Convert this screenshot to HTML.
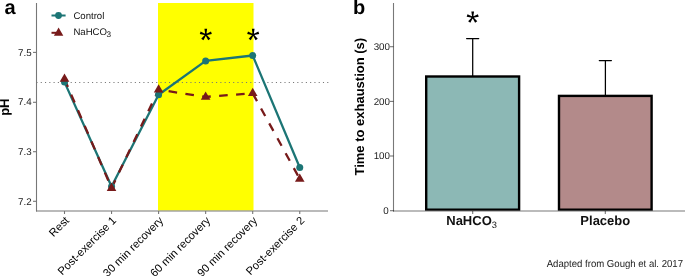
<!DOCTYPE html>
<html><head><meta charset="utf-8"><style>
html,body{margin:0;padding:0;background:#fff;}
body{width:685px;height:276px;overflow:hidden;}
svg{display:block;will-change:transform;}
text{font-family:"Liberation Sans",sans-serif;text-rendering:geometricPrecision;}
</style></head><body>
<svg width="685" height="276" viewBox="0 0 685 276">
<!-- ===== Panel a ===== -->
<rect x="158" y="3" width="95.5" height="207.5" fill="#ffff00"/>
<line x1="36.45" y1="82.5" x2="328.5" y2="82.5" stroke="#777" stroke-width="1.1" stroke-dasharray="1.1 3.176"/>
<!-- axes -->
<line x1="36.5" y1="3" x2="36.5" y2="211.5" stroke="#777" stroke-width="1.1"/>
<line x1="36" y1="211" x2="328" y2="211" stroke="#777" stroke-width="1.1"/>
<g stroke="#777" stroke-width="1.1">
<line x1="33" y1="52.4" x2="36.5" y2="52.4"/>
<line x1="33" y1="102.3" x2="36.5" y2="102.3"/>
<line x1="33" y1="151.7" x2="36.5" y2="151.7"/>
<line x1="33" y1="201.3" x2="36.5" y2="201.3"/>
<line x1="64.5" y1="211" x2="64.5" y2="214"/>
<line x1="111.55" y1="211" x2="111.55" y2="214"/>
<line x1="158.6" y1="211" x2="158.6" y2="214"/>
<line x1="205.65" y1="211" x2="205.65" y2="214"/>
<line x1="252.7" y1="211" x2="252.7" y2="214"/>
<line x1="299.75" y1="211" x2="299.75" y2="214"/>
</g>
<g font-size="9.8" fill="#1a1a1a" text-anchor="end">
<text x="31.6" y="55.6">7.5</text>
<text x="31.6" y="105.1">7.4</text>
<text x="31.6" y="154.9">7.3</text>
<text x="31.6" y="204.5">7.2</text>
</g>
<g font-size="11.2" fill="#000" text-anchor="end">
<text transform="translate(69.80,221.2) rotate(-45)">Rest</text>
<text transform="translate(116.85,221.2) rotate(-45)">Post-exercise 1</text>
<text transform="translate(163.90,221.2) rotate(-45)">30 min recovery</text>
<text transform="translate(210.95,221.2) rotate(-45)">60 min recovery</text>
<text transform="translate(258.00,221.2) rotate(-45)">90 min recovery</text>
<text transform="translate(305.05,221.2) rotate(-45)">Post-exercise 2</text>
</g>
<text transform="translate(9.3,107.2) rotate(-90)" font-size="13" font-weight="bold" fill="#000" text-anchor="middle">pH</text>
<text x="4.5" y="14.4" font-size="20" font-weight="bold" fill="#000">a</text>
<!-- lines then points -->
<polyline points="64.5,82.1 111.55,186.5 158.6,94.8 205.65,60.9 252.7,55.5 299.75,167.5" fill="none" stroke="#1c7575" stroke-width="2.3" stroke-linejoin="round"/>
<polyline points="64.5,79 111.55,188.1 158.6,89.7 205.65,96.9 252.7,93.3 299.75,178.9" fill="none" stroke="#771a1a" stroke-width="2.3" stroke-dasharray="8.6 8.4"/>
<g fill="#1c7575">
<circle cx="64.5" cy="82.1" r="3.5"/>
<circle cx="111.55" cy="186.5" r="3.5"/>
<circle cx="158.6" cy="94.8" r="3.5"/>
<circle cx="205.65" cy="60.9" r="3.5"/>
<circle cx="252.7" cy="55.5" r="3.5"/>
<circle cx="299.75" cy="167.5" r="3.5"/>
</g>
<g fill="#771a1a">
<path d="M64.5,73.5 L69.3,81.8 L59.7,81.8Z"/>
<path d="M111.55,182.6 L116.35,190.9 L106.75,190.9Z"/>
<path d="M158.6,84.2 L163.4,92.5 L153.8,92.5Z"/>
<path d="M205.65,91.4 L210.45,99.7 L200.85,99.7Z"/>
<path d="M252.7,87.8 L257.5,96.1 L247.9,96.1Z"/>
<path d="M299.75,173.4 L304.55,181.7 L294.95,181.7Z"/>
</g>
<!-- asterisks -->
<defs><g id="ast" fill="#000"><path d="M0.50,0.00 L1.35,-5.90 L-1.35,-5.90 L-0.50,-0.00ZM0.15,0.48 L6.03,-0.54 L5.19,-3.11 L-0.15,-0.48ZM0.15,-0.48 L-5.19,-3.11 L-6.03,-0.54 L-0.15,0.48ZM-0.40,0.29 L2.38,5.57 L4.56,3.98 L0.40,-0.29ZM-0.40,-0.29 L-4.56,3.98 L-2.38,5.57 L0.40,0.29Z"/><circle r="1.3"/></g></defs>
<use href="#ast" x="205.8" y="34.65"/>
<use href="#ast" x="253.2" y="34.65"/>
<!-- legend -->
<line x1="51.5" y1="15.5" x2="65.6" y2="15.5" stroke="#1c7575" stroke-width="2"/>
<circle cx="58.5" cy="15.5" r="3.4" fill="#1c7575"/>
<line x1="51.5" y1="32.8" x2="65.6" y2="32.8" stroke="#771a1a" stroke-width="2" stroke-dasharray="8 8"/>
<path d="M58.6,27.6 L63.3,35.8 L53.9,35.8Z" fill="#771a1a"/>
<g font-size="9.6" fill="#111">
<text x="73.4" y="18.7">Control</text>
<text x="73.4" y="34.8">NaHCO<tspan font-size="8.2" dx="-0.4" dy="2.5">3</tspan></text>
</g>

<!-- ===== Panel b ===== -->
<text x="353.1" y="13.8" font-size="20" font-weight="bold" fill="#000">b</text>
<text transform="translate(364,106.7) rotate(-90)" font-size="13" font-weight="bold" fill="#000" text-anchor="middle">Time to exhaustion (s)</text>
<g stroke="#777" stroke-width="1.1">
<line x1="390" y1="46.7" x2="393.5" y2="46.7"/>
<line x1="390" y1="101.4" x2="393.5" y2="101.4"/>
<line x1="390" y1="156" x2="393.5" y2="156"/>
<line x1="390" y1="210.7" x2="393.5" y2="210.7"/>
<line x1="472.7" y1="211" x2="472.7" y2="214"/>
<line x1="605.3" y1="211" x2="605.3" y2="214"/>
</g>
<g font-size="9.8" fill="#1a1a1a" text-anchor="end">
<text x="390" y="50.1">300</text>
<text x="390" y="104.6">200</text>
<text x="390" y="159.1">100</text>
<text x="388.8" y="214">0</text>
</g>
<!-- error bars -->
<g stroke="#000" stroke-width="1.25" stroke-linecap="round">
<line x1="472.7" y1="38.5" x2="472.7" y2="77"/>
<line x1="466.6" y1="38.5" x2="478.7" y2="38.5"/>
<line x1="605.4" y1="60.5" x2="605.4" y2="97"/>
<line x1="599.3" y1="60.5" x2="611.4" y2="60.5"/>
</g>
<clipPath id="pb"><rect x="393" y="0" width="292" height="210.7"/></clipPath>
<g clip-path="url(#pb)">
<rect x="426.2" y="76.5" width="92.9" height="133.2" fill="#8cb8b5" stroke="#000" stroke-width="2.4"/>
<rect x="559" y="95.9" width="92.6" height="113.8" fill="#b38a8a" stroke="#000" stroke-width="2.4"/>
</g>
<line x1="393.5" y1="3" x2="393.5" y2="211.5" stroke="#000" stroke-opacity="0.53" stroke-width="1.1"/>
<line x1="393" y1="211" x2="685" y2="211" stroke="#000" stroke-opacity="0.53" stroke-width="1.1"/>
<use href="#ast" x="472.7" y="17.3"/>
<g font-size="13" font-weight="bold" fill="#111" text-anchor="middle">
<text x="471.6" y="224.9">NaHCO<tspan font-size="9.3" font-weight="normal" dy="2.6">3</tspan></text>
<text x="605.3" y="224.9">Placebo</text>
</g>
<text transform="translate(683,266.8) scale(0.94,1)" font-size="10.2" fill="#1a1a1a" text-anchor="end">Adapted from Gough et al. 2017</text>
</svg>
</body></html>
